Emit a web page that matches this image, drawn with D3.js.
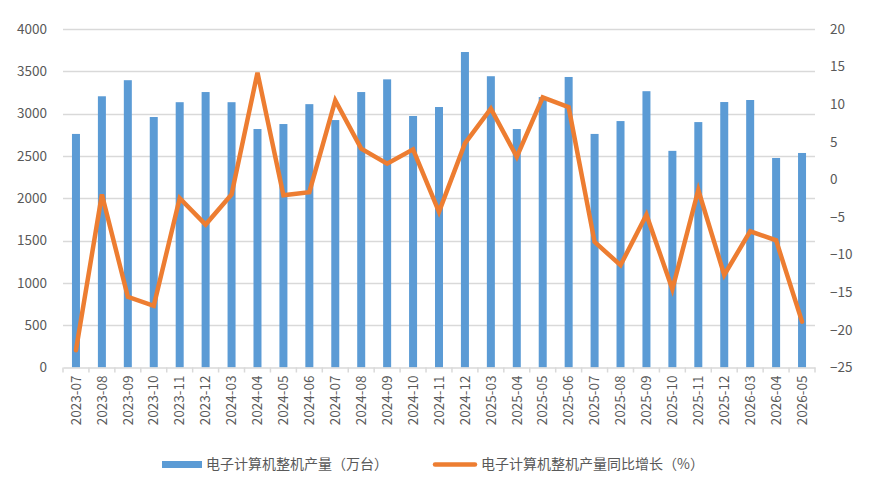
<!DOCTYPE html>
<html>
<head>
<meta charset="utf-8">
<script src="https://cdn.jsdelivr.net/npm/d3@7"></script>
<style>
  body { margin: 0; background: #fff; }
  text { font-family: "Noto Sans CJK SC", "Noto Sans", sans-serif; }
</style>
</head>
<body>
<div id="chart"></div>
<script>
// chart data
var months = ["2023-07", "2023-08", "2023-09", "2023-10", "2023-11", "2023-12",
    "2024-03", "2024-04", "2024-05", "2024-06", "2024-07", "2024-08", "2024-09",
    "2024-10", "2024-11", "2024-12", "2025-03", "2025-04", "2025-05", "2025-06",
    "2025-07", "2025-08", "2025-09", "2025-10", "2025-11", "2025-12",
    "2026-03", "2026-04", "2026-05"];
var output = [2760, 3205, 3395, 2960, 3135, 3255, 3135, 2818, 2877, 3112, 2924,
    3255, 3405, 2972, 3078, 3728, 3442, 2818, 3196, 3433, 2760, 2912, 3265,
    2560, 2900, 3137, 3161, 2476, 2535];
var growth = [-22.7, -2.0, -15.6, -16.8, -2.5, -6.0, -2.0, 14.2, -2.1, -1.7, 10.5,
    4.1, 2.1, 4.0, -4.3, 4.8, 9.4, 3.0, 10.9, 9.6, -8.3, -11.4, -4.7, -14.6,
    -1.4, -12.7, -6.9, -8.1, -18.9];
var leftTicks = [0, 500, 1000, 1500, 2000, 2500, 3000, 3500, 4000];
var rightTicks = [-25, -20, -15, -10, -5, 0, 5, 10, 15, 20];
var names = ["电子计算机整机产量（万台）", "电子计算机整机产量同比增长（%）"];
var colors = ["#5b9bd5", "#ed7d31"];

var w = 875;
var h = 493;
var padLeft = 63, padRight = 815, padTop = 29, padBottom = 367.5;

var svg = d3.select("#chart")
    .append("svg")
    .attr("width", w)
    .attr("height", h);

var xScale = d3.scaleBand()
    .domain(months)
    .range([padLeft, padRight]);

var yLeft = d3.scaleLinear()
    .domain([0, 4000])
    .range([padBottom, padTop]);

var yRight = d3.scaleLinear()
    .domain([-25, 20])
    .range([padBottom, padTop]);

// gridlines
svg.append("g")
    .selectAll("line")
    .data(leftTicks.slice(1))
    .enter()
    .append("line")
    .attr("x1", padLeft)
    .attr("x2", padRight)
    .attr("y1", function (d) { return Math.round(yLeft(d)) + 0.5; })
    .attr("y2", function (d) { return Math.round(yLeft(d)) + 0.5; })
    .attr("stroke", "#d9d9d9")
    .attr("stroke-width", 1.5);

// left axis
var axisL = svg.append("g")
    .attr("transform", "translate(" + (padLeft - 16) + ",0)")
    .call(d3.axisLeft(yLeft).tickValues(leftTicks).tickFormat(d3.format("d"))
        .tickSize(0).tickPadding(0));
axisL.select(".domain").remove();

// right axis
var axisR = svg.append("g")
    .attr("transform", "translate(" + (padRight + 15) + ",0)")
    .call(d3.axisRight(yRight).tickValues(rightTicks).tickFormat(d3.format("d"))
        .tickSize(0).tickPadding(0));
axisR.select(".domain").remove();

// bars
var barW = 8;
svg.append("g")
    .selectAll("rect")
    .data(output)
    .enter()
    .append("rect")
    .attr("x", function (d, i) {
        return xScale(months[i]) + xScale.bandwidth() / 2 - barW / 2;
    })
    .attr("y", function (d) { return yLeft(d); })
    .attr("width", barW)
    .attr("height", function (d) { return yLeft(0) - yLeft(d); })
    .attr("fill", colors[0]);

// bottom axis
var axisB = svg.append("g")
    .attr("transform", "translate(0," + padBottom + ")")
    .call(d3.axisBottom(xScale).tickSize(0).tickPadding(0));
axisB.select(".domain")
    .attr("stroke", "#d9d9d9")
    .attr("stroke-width", 1.5);
axisB.selectAll(".tick text")
    .attr("transform", "rotate(-90)")
    .attr("x", -8)
    .attr("y", 0)
    .attr("dy", "0.35em")
    .style("text-anchor", "end");

svg.selectAll(".tick text")
    .attr("font-family", "\"Noto Sans CJK SC\", sans-serif")
    .attr("font-size", "13.5px")
    .attr("fill", "#595959");

// tick marks at category edges
var edges = months.map(function (m) { return xScale(m); }).concat([padRight]);
svg.append("g")
    .selectAll("line")
    .data(edges)
    .enter()
    .append("line")
    .attr("x1", function (d) { return d; })
    .attr("x2", function (d) { return d; })
    .attr("y1", padBottom)
    .attr("y2", padBottom + 5)
    .attr("stroke", "#d9d9d9")
    .attr("stroke-width", 1.5);

// line
var line = d3.line()
    .x(function (d, i) { return xScale(months[i]) + xScale.bandwidth() / 2; })
    .y(function (d) { return yRight(d); });

svg.append("path")
    .datum(growth)
    .attr("d", line)
    .attr("fill", "none")
    .attr("stroke", colors[1])
    .attr("stroke-width", 4.5)
    .attr("stroke-linejoin", "miter")
    .attr("stroke-linecap", "round");

// legend
var legend = svg.append("g");
legend.append("rect")
    .attr("x", 162)
    .attr("y", 461)
    .attr("width", 40)
    .attr("height", 7)
    .attr("fill", colors[0]);
legend.append("line")
    .attr("x1", 435)
    .attr("x2", 475)
    .attr("y1", 464.5)
    .attr("y2", 464.5)
    .attr("stroke", colors[1])
    .attr("stroke-width", 4.5)
    .attr("stroke-linecap", "round");
legend.selectAll("text")
    .data(names)
    .enter()
    .append("text")
    .text(function (d) { return d; })
    .attr("x", function (d, i) { return i == 0 ? 206 : 481; })
    .attr("y", 464.5)
    .attr("dy", "0.35em")
    .attr("font-size", "14px")
    .attr("fill", "#595959");
</script>
</body>
</html>
